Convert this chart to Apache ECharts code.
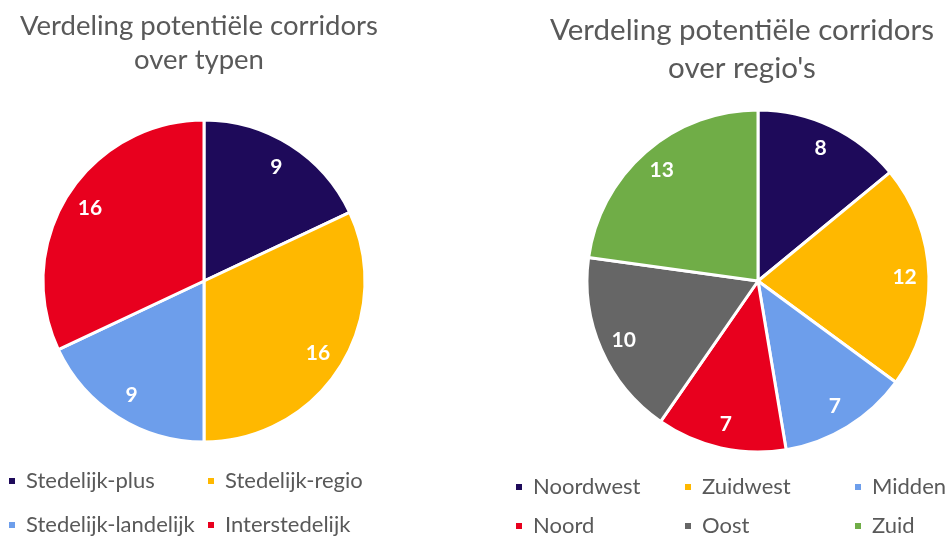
<!DOCTYPE html>
<html><head><meta charset="utf-8">
<script src="https://cdn.jsdelivr.net/npm/echarts@6/dist/echarts.min.js"></script>
<style>html,body{margin:0;padding:0;background:#fff}#c{width:950px;height:537px}</style>
</head><body><div id="c"></div>
<script>
const typeCategories = ['Stedelijk-plus', 'Stedelijk-regio', 'Stedelijk-landelijk', 'Interstedelijk'];
const typeValues = [9, 16, 9, 16];
const regionCategories = ['Noordwest', 'Zuidwest', 'Midden', 'Noord', 'Oost', 'Zuid'];
const regionValues = [8, 12, 7, 7, 10, 13];
const titleLeft = ['Verdeling potentiële corridors', 'over typen'];
const titleRight = ['Verdeling potentiële corridors', "over regio's"];

const colors = {
  'Stedelijk-plus': '#1E0A5A', 'Stedelijk-regio': '#FFB800', 'Stedelijk-landelijk': '#6D9EEB', 'Interstedelijk': '#E8001E',
  'Noordwest': '#1E0A5A', 'Zuidwest': '#FFB800', 'Midden': '#6D9EEB', 'Noord': '#E8001E', 'Oost': '#666666', 'Zuid': '#70AD47'
};
const FONT = 'Lato';
const chart = echarts.init(document.getElementById('c'));

function mk(cats, vals) { return cats.map((n, i) => ({ name: n, value: vals[i], itemStyle: { color: colors[n] } })); }

function pieSeries(cats, vals, center, R, r0f) {
  return [
    { type: 'pie', center: center, radius: [0, R], startAngle: 90, clockwise: true, silent: true,
      label: { show: false }, labelLine: { show: false },
      itemStyle: { borderColor: '#fff', borderWidth: 3 }, data: mk(cats, vals) },
    { type: 'pie', center: center, radius: [R * r0f, R], startAngle: 90, clockwise: true, silent: true,
      legendHoverLink: false,
      label: { show: true, position: 'inside', formatter: '{c}', color: '#fff', fontFamily: FONT, fontWeight: 'bold', fontSize: 21 },
      labelLine: { show: false },
      itemStyle: { color: 'transparent', borderWidth: 0 },
      data: cats.map((n, i) => ({ name: n, value: vals[i], itemStyle: { color: 'transparent' } })) }
  ];
}

const legendPos = [
  { name: 'Stedelijk-plus', left: 2, top: 465 },
  { name: 'Stedelijk-regio', left: 201, top: 465 },
  { name: 'Stedelijk-landelijk', left: 2, top: 509 },
  { name: 'Interstedelijk', left: 201, top: 509 },
  { name: 'Noordwest', left: 509, top: 471 },
  { name: 'Zuidwest', left: 678, top: 471 },
  { name: 'Midden', left: 848, top: 471 },
  { name: 'Noord', left: 509, top: 510 },
  { name: 'Oost', left: 678, top: 510 },
  { name: 'Zuid', left: 848, top: 510 }
];

const option = {
  animation: false,
  backgroundColor: '#fff',
  graphic: [
    { type: 'text', style: { text: titleLeft.join('\n'), x: 199, y: 9, align: 'center', fill: '#595959', font: '27.5px ' + FONT, lineHeight: 34 } },
    { type: 'text', style: { text: titleRight.join('\n'), x: 742, y: 11, align: 'center', fill: '#595959', font: '29.5px ' + FONT, lineHeight: 38 } }
  ],
  legend: legendPos.map(p => ({
    data: [p.name], left: p.left, top: p.top, icon: 'rect', itemWidth: 8, itemHeight: 8, itemGap: 0, selectedMode: false,
    textStyle: { color: '#595959', fontFamily: FONT, fontSize: 22, padding: [0, 0, 0, 5] }
  })),
  series: [
    ...pieSeries(typeCategories, typeValues, [204, 281], 161, 0.64),
    ...pieSeries(regionCategories, regionValues, [758, 281], 171, 0.68)
  ]
};
chart.setOption(option);
</script></body></html>
